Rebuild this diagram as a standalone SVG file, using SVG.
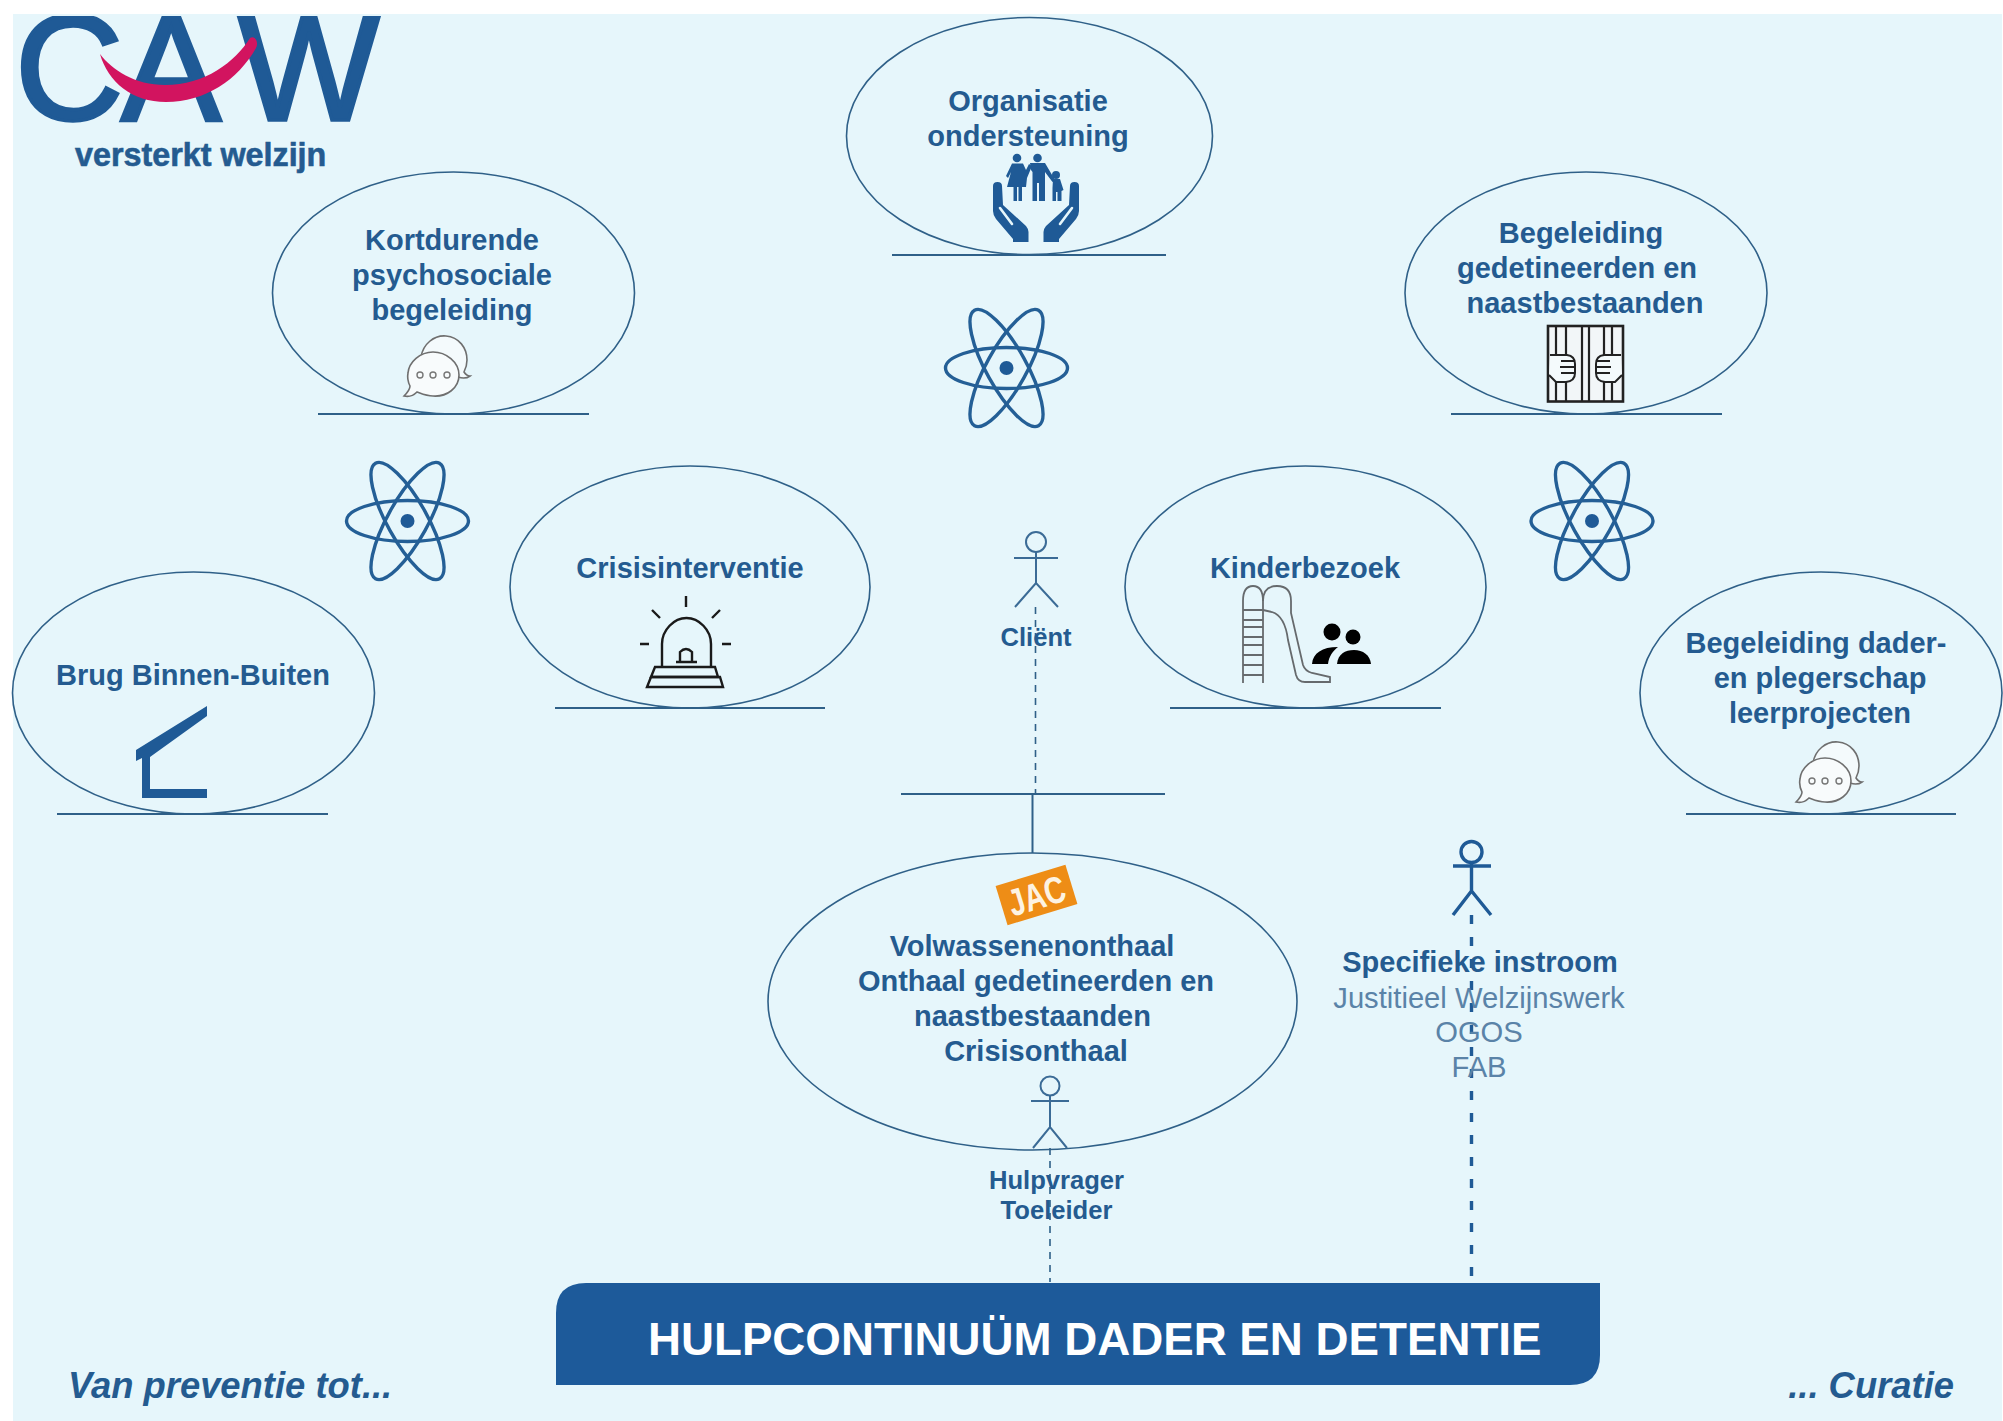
<svg xmlns="http://www.w3.org/2000/svg" xmlns:xlink="http://www.w3.org/1999/xlink" width="2003" height="1421" viewBox="0 0 2003 1421">
<style>
text{font-family:"Liberation Sans",Arial,sans-serif;fill:#245b90}
.t{font-size:29px;font-weight:700;text-anchor:middle}
.r{font-size:29.2px;text-anchor:middle;fill:#5a83a8}
.s{font-size:25.6px;font-weight:700;text-anchor:middle}
.i{font-size:36.4px;font-weight:700;font-style:italic}
.e{fill:none;stroke:#2f6088;stroke-width:1.6}
.g{fill:none;stroke:#2f6088;stroke-width:2}
.a{fill:none;stroke:#3b6b96;stroke-width:2}
.b{fill:none;stroke:#1f5a96;stroke-width:3.4}
.p{fill:#1f5a96}
.k{fill:#000}
.d1{fill:none;stroke:#2f6088;stroke-width:1.6;stroke-dasharray:7 6}
.d2{fill:none;stroke:#1f5a96;stroke-width:3.4;stroke-dasharray:9 13}
</style>
<defs>
<clipPath id="logoclip"><rect x="13" y="16" width="500" height="170"/></clipPath>
<g id="atom">
<ellipse cx="0" cy="0" rx="61" ry="20.5" fill="none" stroke="#245f96" stroke-width="3.4"/>
<ellipse cx="0" cy="0" rx="66" ry="20" fill="none" stroke="#245f96" stroke-width="3.4" transform="rotate(61)"/>
<ellipse cx="0" cy="0" rx="66" ry="20" fill="none" stroke="#245f96" stroke-width="3.4" transform="rotate(-61)"/>
<circle cx="0" cy="0" r="7" fill="#1f5a96"/>
</g>
<g id="bubbles">
<path d="M421,357 C423,344 434,335 446,336 C459,337 467,348 467,360 C467,366 465,370 464,372 C466,375 468,376 470,376 C466,379 461,378 458,377 Z" fill="#f4fafc" stroke="#6f6f6f" stroke-width="1.6"/>
<path d="M433,352 C446,352 459,362 459,375 C459,388 447,397 433,396 C426,396 420,393 417,392 C413,396 408,397 404,396 C407,393 410,390 410,386 C408,382 407,378 408,373 C409,362 420,352 433,352 Z" fill="#f8fbfc" stroke="#6f6f6f" stroke-width="1.6"/>
<circle cx="420" cy="375" r="3" fill="none" stroke="#777" stroke-width="1.4"/>
<circle cx="433" cy="375" r="3" fill="none" stroke="#777" stroke-width="1.4"/>
<circle cx="447" cy="375" r="3" fill="none" stroke="#777" stroke-width="1.4"/>
</g>
<g id="hand">
<path class="p" d="M993,186 Q993,182 997.500,182 Q1002,182 1002,186 L1003,205 L1026,226 Q1028.500,229 1028.500,232 L1028.500,242 L1013,242 L1013,239 L996,219 Q993,215 993,211 Z"/>
<path d="M1000,208 L1012,224" fill="none" stroke="#e6f6fb" stroke-width="2.6" stroke-linecap="round"/>
</g>
<g id="fingers">
<path d="M2,0 L19,0 Q27,1 27,9 L27,18 Q27,26 18,27 L8,27 L1,20" fill="#f4fafc" stroke="#222" stroke-width="2"/>
<path d="M13,6 H26 M12,12 H27 M13,18 H26" fill="none" stroke="#222" stroke-width="2"/>
</g>
</defs>
<rect id="background" x="13" y="14" width="1989" height="1407" fill="#e6f6fb"/>

<g id="connectors">
<path class="g" d="M892,255 H1166"/>
<path class="g" d="M318,414 H589"/>
<path class="g" d="M1451,414 H1722"/>
<path class="g" d="M57,814 H328"/>
<path class="g" d="M555,708 H825"/>
<path class="g" d="M1170,708 H1441"/>
<path class="g" d="M1686,814 H1956"/>
<path class="g" d="M901,794 H1165"/>
<path class="g" d="M1032.500,794 V853"/>
<path class="d1" d="M1035.500,607 V794"/>
<path class="d1" d="M1050,1148 V1282"/>
<path class="d2" d="M1471.500,915 V1282"/>
</g>

<g id="logo">
<g clip-path="url(#logoclip)">
<text y="120" font-size="150" x="15 121 238" style="fill:#1f5a96;stroke:#1f5a96;stroke-width:3.500">CAW</text>
</g>
<path d="M100,54 C112,70 135,85 165,85 C205,85 235,62 250,38 C255,35 259,42 256,48 C238,80 205,102 166,102 C132,102 108,82 100,54 Z" fill="#d2145f"/>
<text x="75" y="166" font-size="32.300" font-weight="700" style="stroke:#245b90;stroke-width:.6">versterkt welzijn</text>
</g>

<g id="node-organisatie">
<ellipse class="e" cx="1029.500" cy="136" rx="183" ry="118.500"/>
<text class="t" x="1028" y="111">Organisatie</text>
<text class="t" x="1028" y="146">ondersteuning</text>
<use xlink:href="#hand" href="#hand"/>
<use xlink:href="#hand" href="#hand" transform="translate(2072,0) scale(-1,1)"/>
<g class="p">
<circle cx="1017" cy="158" r="4.300"/><circle cx="1037.500" cy="158" r="4.300"/><circle cx="1056" cy="175" r="4"/>
<path d="M1012,163.500 H1023 L1026,170 L1029,164 L1032,166 L1027,178 L1026,187 H1022 V201 H1018.500 V187 H1017 V201 H1013.500 V187 H1007 L1011,172 L1008,178 L1006,176 Z"/>
<path d="M1030,163 H1045 L1055,180 L1052.500,182 L1045,172 V201 H1039 V183 H1037 V201 H1032.500 V172 L1031,170 Z"/>
<path d="M1053,179 H1060 L1063.500,190 L1061.500,191 V201 H1057.500 V192 H1056 V201 H1052.500 V188 Z"/>
</g>
</g>
<use id="atom-top" xlink:href="#atom" href="#atom" transform="translate(1006.500,368)"/>
<use id="atom-left" xlink:href="#atom" href="#atom" transform="translate(407.500,521)"/>
<use id="atom-right" xlink:href="#atom" href="#atom" transform="translate(1592,521)"/>

<g id="node-kortdurende">
<ellipse class="e" cx="453.500" cy="293" rx="181" ry="121"/>
<text class="t" x="452" y="250">Kortdurende</text>
<text class="t" x="452" y="285">psychosociale</text>
<text class="t" x="452" y="320">begeleiding</text>
<use xlink:href="#bubbles" href="#bubbles"/>
</g>

<g id="node-begeleiding-gedetineerden">
<ellipse class="e" cx="1586" cy="293" rx="181" ry="121"/>
<text class="t" x="1581" y="243">Begeleiding</text>
<text class="t" x="1577" y="278">gedetineerden en</text>
<text class="t" x="1585" y="313">naastbestaanden</text>
<rect x="1548" y="326" width="75" height="75.500" fill="#f2f6f8" stroke="#222" stroke-width="2.600"/>
<path d="M1556,326 V401 M1566,326 V401 M1582,326 V401 M1589,326 V401 M1604,326 V401 M1612,326 V401" fill="none" stroke="#222" stroke-width="2.200"/>
<use xlink:href="#fingers" href="#fingers" transform="translate(1548,355)"/>
<use xlink:href="#fingers" href="#fingers" transform="translate(1623,355) scale(-1,1)"/>
</g>

<g id="node-brug">
<ellipse class="e" cx="193.500" cy="693" rx="181" ry="121"/>
<text class="t" x="193" y="685">Brug Binnen-Buiten</text>
<path class="p" d="M136,750 L207,706 L207,716 L150,757 L150,789 H207 V798 H142 V758 L136,761 Z"/>
</g>

<g id="node-crisis">
<ellipse class="e" cx="690" cy="587" rx="180" ry="121"/>
<text class="t" x="690" y="578">Crisisinterventie</text>
<g fill="none" stroke="#1a1a1a" stroke-width="2.400">
<path d="M662,667 V644 C662,630 674,618 686.500,618 C699,618 711,630 711,644 V667"/>
<path d="M655,667 H715 L718,677 H651 Z"/>
<path d="M651,677 H720 L723,687 H647 Z"/>
<path d="M680,662 V652 Q686,646 692,652 V662 M676,662 H697"/>
<path d="M686,596 V607 M652,610 L660,618 M720,610 L712,618 M640,644 H649 M722,644 H731"/>
</g>
</g>

<g id="node-kinderbezoek">
<ellipse class="e" cx="1305.500" cy="587" rx="180.500" ry="121"/>
<text class="t" x="1305" y="578">Kinderbezoek</text>
<g fill="none" stroke="#666a6d" stroke-width="1.800">
<path d="M1243,683 V601 Q1243,586 1253,586 Q1263,586 1263,601 V683"/>
<path d="M1263,601 Q1263,586 1277,586 Q1291,586 1291,601 V613 L1303,665 Q1305,671 1312,673 L1330,677 V682 H1305 Q1298,682 1296,675 L1288,640 Q1285,616 1272,612 L1263,610"/>
<path d="M1243,610 H1263 M1243,620 H1263 M1243,627 H1263 M1243,637 H1263 M1243,645 H1263 M1243,655 H1263 M1243,665 H1263 M1243,675 H1263"/>
</g>
<g class="k">
<circle cx="1332" cy="632" r="8.500"/><circle cx="1353" cy="637" r="7.500"/>
<path d="M1312,664 C1313,653 1322,647 1338,647 C1333,651 1329,656 1328,664 Z"/>
<path d="M1337,664 C1338,654 1345,650 1354,650 C1363,650 1370,655 1371,664 Z"/>
</g>
</g>

<g id="node-begeleiding-dader">
<ellipse class="e" cx="1821" cy="693" rx="181" ry="121"/>
<text class="t" x="1816" y="653">Begeleiding dader-</text>
<text class="t" x="1820" y="688">en plegerschap</text>
<text class="t" x="1820" y="723">leerprojecten</text>
<use xlink:href="#bubbles" href="#bubbles" transform="translate(1392,406)"/>
</g>

<g id="node-client">
<circle class="a" cx="1036" cy="542" r="10"/>
<path class="a" d="M1014,558 H1058 M1036,552 V583 M1015,607 L1036,583 L1058,607"/>
<text class="s" x="1036" y="646">Cliënt</text>
</g>

<g id="node-onthaal">
<ellipse class="e" cx="1032.500" cy="1001.500" rx="264.500" ry="148.500"/>
<g transform="translate(1036.500,895) rotate(-17)">
<rect x="-36.500" y="-20.500" width="73" height="41" fill="#ee8d16"/>
<text x="-29" y="14" font-size="38" font-weight="700" textLength="58" lengthAdjust="spacingAndGlyphs" style="fill:#fdf3e2">JAC</text>
</g>
<text class="t" x="1032" y="956">Volwassenenonthaal</text>
<text class="t" x="1036" y="991">Onthaal gedetineerden en</text>
<text class="t" x="1032.500" y="1026">naastbestaanden</text>
<text class="t" x="1036" y="1061">Crisisonthaal</text>
</g>

<g id="node-hulpvrager">
<circle class="a" cx="1050" cy="1086" r="9.500"/>
<path class="a" d="M1031,1101 H1069 M1050,1095.500 V1127 M1033,1148 L1050,1127 L1067,1148"/>
<text class="s" x="1056.500" y="1189">Hulpvrager</text>
<text class="s" x="1056.500" y="1219">Toeleider</text>
</g>

<g id="node-instroom">
<circle class="b" cx="1471.500" cy="852" r="10.500"/>
<path class="b" d="M1453,866 H1491 M1471.500,862 V891 M1453,915 L1471.500,891 L1491,915"/>
<text class="t" x="1480" y="972">Specifieke instroom</text>
<text class="r" x="1479" y="1008">Justitieel Welzijnswerk</text>
<text class="r" x="1479" y="1042">OGOS</text>
<text class="r" x="1479" y="1077">FAB</text>
</g>

<g id="node-titel">
<path d="M586,1283 H1600 V1355 Q1600,1385 1570,1385 H556 V1313 Q556,1283 586,1283 Z" fill="#1d5a9a"/>
<text x="648" y="1355" font-size="45.700" font-weight="700" style="fill:#fff">HULPCONTINUÜM DADER EN DETENTIE</text>
</g>

<text class="i" x="68" y="1398">Van preventie tot...</text>
<text class="i" x="1954" y="1398" text-anchor="end">... Curatie</text>
</svg>
